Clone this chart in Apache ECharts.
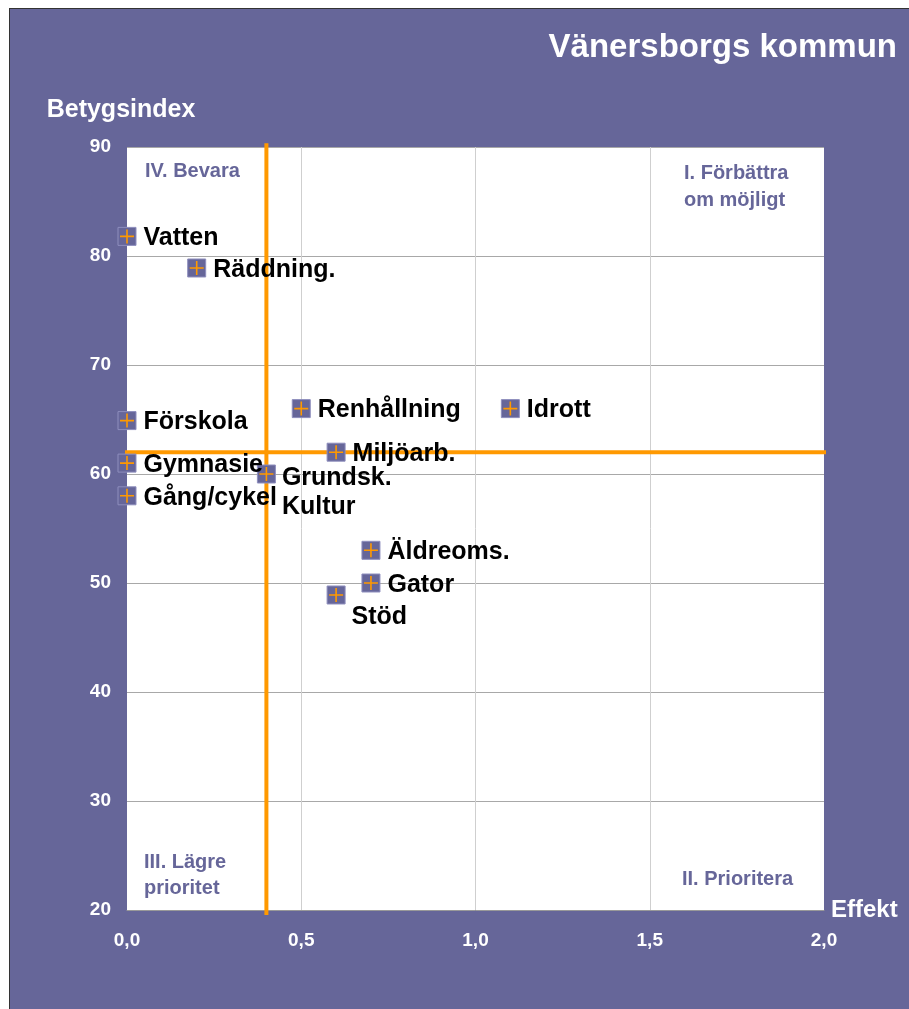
<!DOCTYPE html>
<html>
<head>
<meta charset="utf-8">
<script src="https://cdn.jsdelivr.net/npm/echarts@6/dist/echarts.min.js"></script>
<style>
  html, body { margin: 0; padding: 0; background: #fff; }
  #chart {
    position: absolute;
    left: 9px;
    top: 8px;
    width: 899px;
    height: 1000px;
    border-left: 1px solid #333;
    border-top: 1px solid #333;
  }
</style>
</head>
<body>
<div id="chart"></div>
<script>
// verksamheter, effekt (x) och betygsindex (y)
const names = ["Vatten", "Räddning.", "Förskola", "Gymnasie", "Gång/cykel", "Grundsk.\nKultur",
  "Renhållning", "Idrott", "Miljöarb.", "Äldreoms.", "Gator", "Stöd"];
const effekt = [0.0, 0.2, 0.0, 0.0, 0.0, 0.4, 0.5, 1.1, 0.6, 0.7, 0.7, 0.6];
const betyg = [81.8, 78.9, 64.9, 61.0, 58.0, 60.0, 66.0, 66.0, 62.0, 53.0, 50.0, 48.9];

// prioriteringslinjer
const splitX = 0.4;
const splitY = 62;

const FONT = "'Liberation Sans', Arial, sans-serif";
const PURPLE = "#666699";
const ORANGE = "#FF9900";

// specialplacering av etiketter
const labelPos = {
  "Grundsk.\nKultur": { position: [25, -3], verticalAlign: "top" },
  "Stöd": { position: [25, 30], verticalAlign: "middle" },
};

const pts = names.map((n, i) => {
  const d = { name: n, value: [effekt[i], betyg[i]] };
  if (labelPos[n]) d.label = labelPos[n];
  return d;
});

const chart = echarts.init(document.getElementById("chart"));

chart.setOption({
  backgroundColor: PURPLE,
  animation: false,
  textStyle: { fontFamily: FONT },
  grid: {
    left: 117, right: 85, top: 138, bottom: 99,
    show: true, backgroundColor: "#fff", borderWidth: 0,
  },
  xAxis: {
    type: "value", min: 0, max: 2, interval: 0.5,
    name: "Effekt", nameLocation: "end", nameGap: 7,
    nameTextStyle: { color: "#fff", fontSize: 24, fontWeight: "bold", fontFamily: FONT,
      align: "left", verticalAlign: "middle", padding: [0, 0, 26, 0] },
    axisLine: { show: true, lineStyle: { color: "#999", width: 1 } },
    axisTick: { show: false },
    axisLabel: { color: "#fff", fontSize: 19, fontWeight: "bold", fontFamily: FONT, margin: 21,
      formatter: (v) => v.toFixed(1).replace(".", ",") },
    splitLine: { show: true, showMinLine: false, showMaxLine: false, lineStyle: { color: "#cfcfcf", width: 1 } },
  },
  yAxis: {
    type: "value", min: 20, max: 90, interval: 10,
    name: "Betygsindex", nameLocation: "end", nameGap: 37,
    nameTextStyle: { color: "#fff", fontSize: 25, fontWeight: "bold", fontFamily: FONT,
      align: "center", verticalAlign: "middle", padding: [0, 12, 0, 0] },
    axisLine: { show: false },
    axisTick: { show: false },
    axisLabel: { color: "#fff", fontSize: 19, fontWeight: "bold", fontFamily: FONT, margin: 16 },
    splitLine: { show: true, showMinLine: false, lineStyle: { color: "#a8a8a8", width: 1 } },
  },
  graphic: [
    { type: "text", right: 12, top: 22,
      style: { text: "Vänersborgs kommun", fill: "#fff", font: "bold 33px " + FONT } },
    { type: "text", left: 135, top: 152,
      style: { text: "IV. Bevara", fill: PURPLE, font: "bold 20px " + FONT } },
    { type: "text", left: 674, top: 151,
      style: { text: "I. Förbättra\nom möjligt", fill: PURPLE, font: "bold 20px " + FONT,
        lineHeight: 27 } },
    { type: "text", left: 134, top: 840,
      style: { text: "III. Lägre\nprioritet", fill: PURPLE, font: "bold 20px " + FONT, lineHeight: 26 } },
    { type: "text", left: 672, top: 860,
      style: { text: "II. Prioritera", fill: PURPLE, font: "bold 20px " + FONT } },
  ],
  series: [
    {
      type: "line", silent: true, clip: false, symbol: "none", z: 1,
      lineStyle: { color: ORANGE, width: 4 },
      data: [[splitX, 19.55], [splitX, 90.35]],
    },
    {
      type: "line", silent: true, clip: false, symbol: "none", z: 1,
      lineStyle: { color: ORANGE, width: 4 },
      data: [[-0.02, splitY], [2.026, splitY]],
    },
    {
      type: "scatter", z: 3, silent: true,
      symbol: "rect", symbolSize: 18,
      itemStyle: { color: PURPLE, borderColor: "#8e8ebd", borderWidth: 1, opacity: 1 },
      label: {
        show: true, position: "right", distance: 7, offset: [0, 2],
        formatter: (p) => p.name,
        color: "#000", fontSize: 25, fontWeight: "bold", fontFamily: FONT, lineHeight: 29,
      },
      emphasis: { disabled: true },
      data: pts,
    },
    {
      type: "scatter", z: 4, silent: true,
      symbol: "path://M6.2,0h1.6v6.2h6.2v1.6h-6.2v6.2h-1.6v-6.2h-6.2v-1.6h6.2z",
      symbolSize: 14,
      itemStyle: { color: ORANGE, opacity: 1 },
      emphasis: { disabled: true },
      data: pts.map((p) => p.value),
    },
  ],
});
</script>
</body>
</html>
